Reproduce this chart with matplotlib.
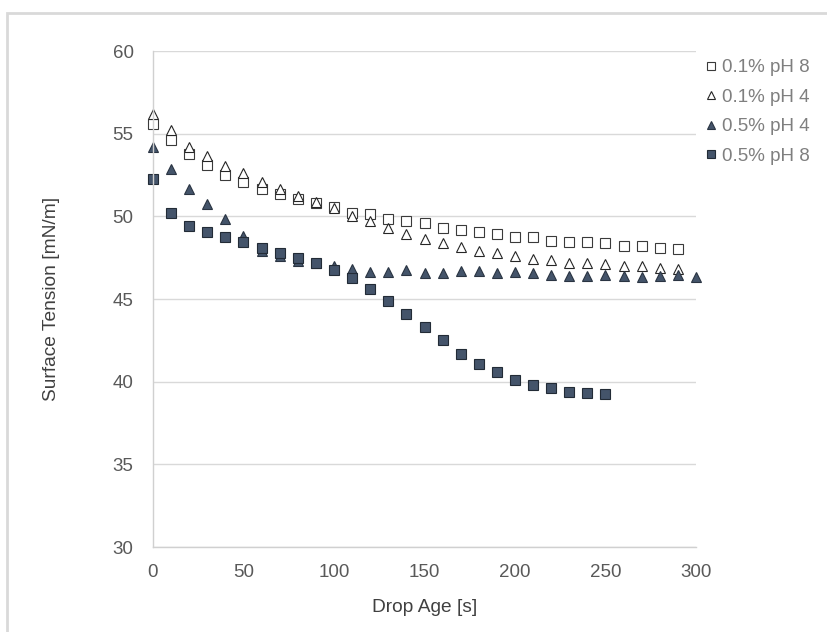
import matplotlib
matplotlib.use('Agg')
import matplotlib.pyplot as plt
from matplotlib.patches import Rectangle

plt.rcParams['font.family'] = ['Liberation Sans', 'DejaVu Sans']

# Drop age [s] and surface tension [mN/m] for each sample
AGE = [0, 10, 20, 30, 40, 50, 60, 70, 80, 90, 100, 110, 120, 130, 140, 150,
       160, 170, 180, 190, 200, 210, 220, 230, 240, 250, 260, 270, 280, 290, 300]

ST_01_PH8 = [55.56, 54.61, 53.75, 53.08, 52.48, 52.07, 51.67, 51.33, 51.02, 50.78,
             50.58, 50.22, 50.12, 49.85, 49.71, 49.58, 49.31, 49.17, 49.03, 48.91,
             48.77, 48.77, 48.52, 48.46, 48.42, 48.36, 48.22, 48.22, 48.06, 48.00]
ST_01_PH4 = [56.17, 55.22, 54.21, 53.64, 53.04, 52.60, 52.09, 51.67, 51.22, 50.86,
             50.52, 50.05, 49.71, 49.31, 48.96, 48.60, 48.37, 48.12, 47.92, 47.80,
             47.60, 47.42, 47.34, 47.19, 47.19, 47.09, 47.01, 46.97, 46.85, 46.83]
ST_05_PH4 = [54.21, 52.88, 51.63, 50.72, 49.85, 48.80, 47.89, 47.59, 47.29, 47.19,
             46.99, 46.79, 46.65, 46.65, 46.73, 46.59, 46.59, 46.68, 46.68, 46.59,
             46.65, 46.59, 46.48, 46.42, 46.42, 46.48, 46.42, 46.34, 46.42, 46.48, 46.34]
ST_05_PH8 = [52.28, 50.20, 49.41, 49.03, 48.77, 48.44, 48.10, 47.80, 47.49, 47.15,
             46.74, 46.28, 45.58, 44.87, 44.12, 43.33, 42.49, 41.70, 41.08, 40.57,
             40.13, 39.78, 39.60, 39.36, 39.30, 39.28]

SERIES = [
    ('0.1% pH 8', ST_01_PH8, 's', 'white', '#3a3a3a', 6.8),
    ('0.1% pH 4', ST_01_PH4, '^', 'white', '#262626', 7.2),
    ('0.5% pH 4', ST_05_PH4, '^', '#44546A', '#2a3442', 7.2),
    ('0.5% pH 8', ST_05_PH8, 's', '#44546A', '#222b36', 6.8),
]

fig = plt.figure(figsize=(8.28, 6.32), dpi=100)
ax = fig.add_axes([153 / 828, 1 - 547 / 632, (696 - 153) / 828, (547 - 51) / 632])

for label, values, marker, face, edge, size in SERIES:
    ax.plot(AGE[:len(values)], values, linestyle='none', marker=marker, markersize=size,
            markerfacecolor=face, markeredgecolor=edge, markeredgewidth=0.8,
            label=label, clip_on=False)

ax.set_xlim(0, 300)
ax.set_ylim(30, 60)
ax.set_xticks(range(0, 301, 50))
ax.set_yticks(range(30, 61, 5))
ax.grid(axis='y', color='#d9d9d9', linewidth=1)
ax.set_axisbelow(True)
for side in ('top', 'right'):
    ax.spines[side].set_visible(False)
for side in ('left', 'bottom'):
    ax.spines[side].set_color('#d0d0d0')
    ax.spines[side].set_linewidth(1)
ax.tick_params(length=0, labelsize=13.5, labelcolor='#595959')
ax.tick_params(axis='x', pad=12)
ax.tick_params(axis='y', pad=14)

ax.set_xlabel('Drop Age [s]', fontsize=13.8, color='#404040', labelpad=13)
ax.set_ylabel('Surface Tension [mN/m]', fontsize=13.8, color='#404040', labelpad=38)

leg = ax.legend(loc='upper left', bbox_to_anchor=(0.99, 1.014), frameon=False,
                fontsize=13.5, labelcolor='#7f7f7f', handlelength=0.6,
                handletextpad=0.25, markerscale=0.78, labelspacing=0.66,
                borderaxespad=0.4)

# light chart border, cut off at the right and bottom edges
fig.add_artist(Rectangle((7 / 828, -0.1), 2, 1 - 13 / 632 + 0.1, transform=fig.transFigure,
                         fill=False, edgecolor='#d9d9d9', linewidth=2))

fig.savefig('out.png', dpi=100)
